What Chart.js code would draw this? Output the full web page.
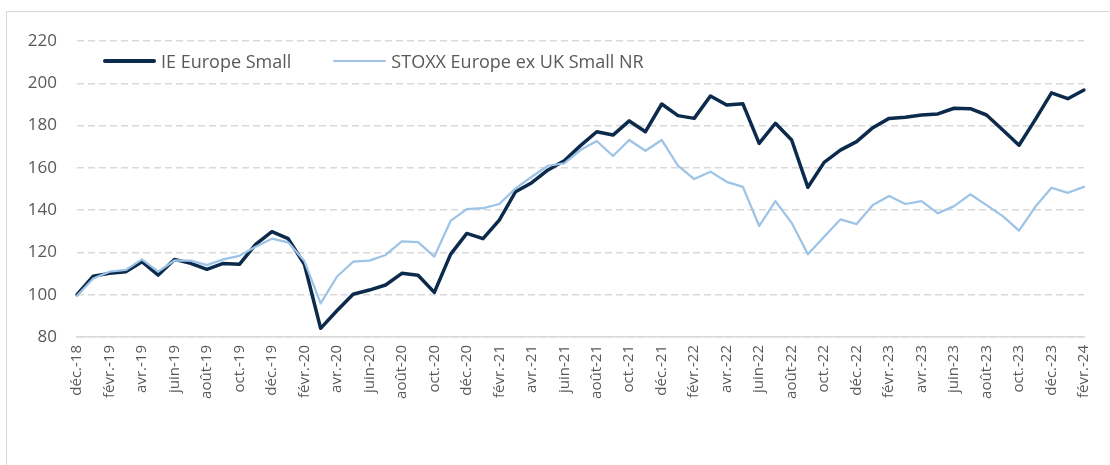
<!DOCTYPE html>
<html>
<head>
<meta charset="utf-8">
<script src="https://cdn.jsdelivr.net/npm/chart.js@4"></script>
<style>
  html, body { margin: 0; padding: 0; background: #fff; overflow: hidden; }
  #wrap { position: relative; width: 1110px; height: 465px; }
  #frame { position: absolute; left: 6px; top: 11px; width: 1200px; height: 600px; border: 1px solid #d9d9d9; }
  #chart { position: absolute; left: 0; top: 0; }
  #legend { position: absolute; left: 103px; top: 49px; display: flex; font-family: "Open Sans", sans-serif; font-size: 18px; color: #595959; }
  .item { display: flex; align-items: center; height: 24px; margin-right: 42px; }
  .swatch { width: 53px; margin-right: 5px; border-radius: 2px; }
</style>
</head>
<body>
<div id="wrap">
  <div id="frame"></div>
  <canvas id="chart" width="1110" height="465"></canvas>
  <div id="legend"></div>
</div>
<script>
// months, déc. 2018 -> févr. 2024
const months = [
  'déc.-18',
  'janv.-19', 'févr.-19', 'mars-19', 'avr.-19', 'mai-19', 'juin-19', 'juil.-19', 'août-19', 'sept.-19', 'oct.-19', 'nov.-19', 'déc.-19',
  'janv.-20', 'févr.-20', 'mars-20', 'avr.-20', 'mai-20', 'juin-20', 'juil.-20', 'août-20', 'sept.-20', 'oct.-20', 'nov.-20', 'déc.-20',
  'janv.-21', 'févr.-21', 'mars-21', 'avr.-21', 'mai-21', 'juin-21', 'juil.-21', 'août-21', 'sept.-21', 'oct.-21', 'nov.-21', 'déc.-21',
  'janv.-22', 'févr.-22', 'mars-22', 'avr.-22', 'mai-22', 'juin-22', 'juil.-22', 'août-22', 'sept.-22', 'oct.-22', 'nov.-22', 'déc.-22',
  'janv.-23', 'févr.-23', 'mars-23', 'avr.-23', 'mai-23', 'juin-23', 'juil.-23', 'août-23', 'sept.-23', 'oct.-23', 'nov.-23', 'déc.-23',
  'janv.-24', 'févr.-24'
];

const ieEuropeSmall = [
  100, 108.8, 110.1, 110.9, 115.6, 109.3, 116.7, 114.8, 112, 114.8,
  114.4, 123.8, 129.8, 126.5, 114.4, 84.1, 92.4, 100.2, 102.2, 104.6,
  110.1, 109.2, 101.1, 119.1, 129, 126.5, 135.3, 148.7, 153, 159,
  163.4, 170.5, 177.1, 175.5, 182.2, 177.1, 190.2, 184.7, 183.4, 194,
  189.7, 190.3, 171.6, 181.1, 173.2, 150.8, 162.6, 168.4, 172.4, 179,
  183.4, 183.9, 185, 185.5, 188.2, 188, 185, 177.9, 170.7, 182.8,
  195.5, 192.7, 196.8
];

const stoxxExUkSmall = [
  99.5, 107.7, 110.9, 111.7, 116.7, 110.9, 116.2, 116.1, 114, 116.7,
  118.4, 122.7, 126.5, 124.8, 115.9, 95.9, 108.5, 115.6, 116.1, 118.8,
  125.2, 124.9, 118, 134.9, 140.5, 140.9, 142.9, 150.3, 155.8, 161,
  162.1, 168.4, 172.7, 165.6, 173.2, 168.1, 173.2, 161, 154.7, 158.2,
  153.4, 151, 132.5, 144.3, 134, 119.1, 127.4, 135.6, 133.4, 142.4,
  146.7, 142.9, 144.3, 138.5, 141.9, 147.5, 142.4, 137.2, 130.3, 141.6,
  150.6, 148.2, 151
];

const yMin = 80, yMax = 220, yStep = 20;

const textColor = '#595959';
const gridColor = '#d9d9d9';

const chart = new Chart(document.getElementById('chart'), {
  type: 'line',
  data: {
    labels: months,
    datasets: [
      {
        label: 'IE Europe Small',
        data: ieEuropeSmall,
        borderColor: '#0c2a4b',
        borderWidth: 3.5,
        order: 1
      },
      {
        label: 'STOXX Europe ex UK Small NR',
        data: stoxxExUkSmall,
        borderColor: '#9dc3e6',
        borderWidth: 2.25,
        order: 0
      }
    ]
  },
  options: {
    responsive: false,
    animation: false,
    layout: { padding: { top: 41, right: 17, left: 0, bottom: 0 } },
    elements: {
      point: { radius: 0 },
      line: { tension: 0, fill: false, borderJoinStyle: 'round', borderCapStyle: 'round' }
    },
    plugins: {
      legend: { display: false },
      tooltip: { enabled: false }
    },
    scales: {
      x: {
        grid: { display: false, drawTicks: false },
        border: { display: true, color: gridColor, width: 1.5 },
        ticks: {
          autoSkip: false,
          minRotation: 90,
          maxRotation: 90,
          padding: 8,
          color: textColor,
          font: { family: 'Open Sans', size: 15 },
          callback: (v, i) => (i % 2 === 0 ? months[i] : '')
        },
        afterFit: s => { s.height = 128; }
      },
      y: {
        min: yMin,
        max: yMax,
        grid: { color: gridColor, lineWidth: 1.5, drawTicks: false },
        border: { display: false, dash: [7, 4] },
        ticks: {
          stepSize: yStep,
          padding: 20,
          color: textColor,
          font: { family: 'Open Sans', size: 17 }
        },
        afterFit: s => { s.width = 77; }
      }
    }
  }
});

// legend drawn over the plot like the original
const legend = document.getElementById('legend');
chart.data.datasets.forEach(ds => {
  const item = document.createElement('div');
  item.className = 'item';
  const sw = document.createElement('span');
  sw.className = 'swatch';
  sw.style.height = ds.borderWidth + 'px';
  sw.style.background = ds.borderColor;
  const txt = document.createElement('span');
  txt.textContent = ds.label;
  item.appendChild(sw);
  item.appendChild(txt);
  legend.appendChild(item);
});
</script>
</body>
</html>
